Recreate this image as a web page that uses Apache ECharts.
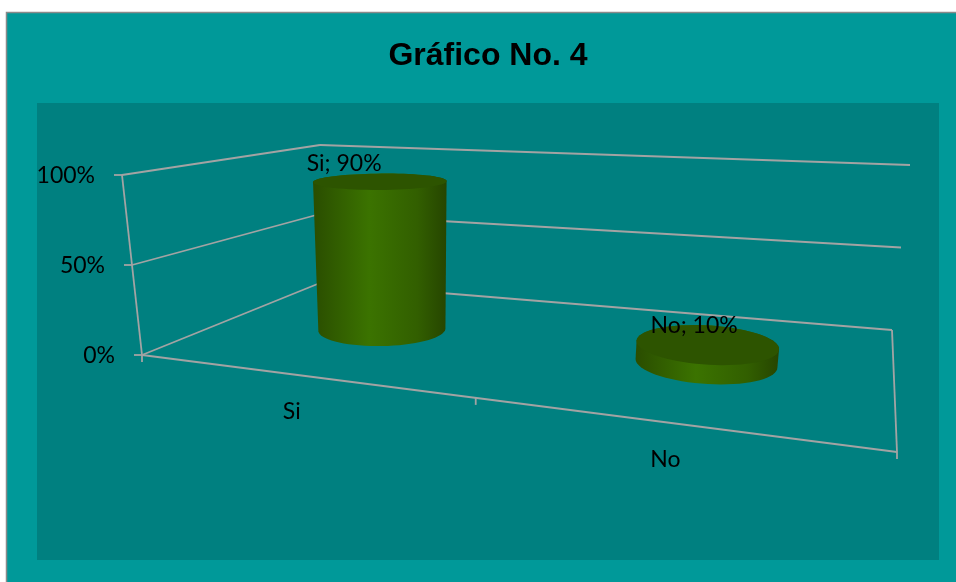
<!DOCTYPE html>
<html>
<head>
<meta charset="utf-8">
<title>Gráfico No. 4</title>
<script src="https://cdn.jsdelivr.net/npm/echarts@6/dist/echarts.min.js"></script>
<style>
  html, body { margin: 0; padding: 0; background: #ffffff; }
  #chart { width: 956px; height: 582px; }
</style>
</head>
<body>
<div id="chart"></div>
<script>
// Survey answers and their share of responses (%)
const categories = ['Si', 'No'];
const values = [90, 10];
// Value axis ticks (%)
const valueTicks = [0, 50, 100];
const chartTitle = 'Gráfico No. 4';

// Projected corners of the 3D plot box: u = category direction,
// h = height, z = depth (0 front, 1 back); w = perspective depth weight.
const BOX = [
  { u: 0, h: 0, z: 0, x: 142, y: 355, w: 0.77 },
  { u: 0, h: 1, z: 0, x: 122, y: 175, w: 0.77 },
  { u: 0, h: 0, z: 1, x: 320, y: 283, w: 1.00 },
  { u: 0, h: 1, z: 1, x: 320, y: 145, w: 1.00 },
  { u: 1, h: 0, z: 1, x: 892, y: 330, w: 0.84 },
  { u: 1, h: 1, z: 1, x: 910, y: 165, w: 0.84 },
  { u: 1, h: 0, z: 0, x: 897, y: 452, w: 0.61 },
  { u: 1, h: 1, z: 0, x: 925, y: 224, w: 0.61 }
];

const LINE = { stroke: '#a3a3a3', lineWidth: 1.8 };
const FONT = '23px Lato, "Open Sans", sans-serif';

// Perspective-correct blend of the box corners
function proj(u, h, z) {
  let sx = 0, sy = 0, sw = 0;
  for (const c of BOX) {
    const b = (c.u ? u : 1 - u) * (c.h ? h : 1 - h) * (c.z ? z : 1 - z) * c.w;
    sx += b * c.x; sy += b * c.y; sw += b;
  }
  return [sx / sw, sy / sw];
}

// Map a data point through the hidden cartesian scales to box fractions
function toBox(api, cs, cat, val) {
  const p = api.coord([cat, val]);
  return {
    u: (p[0] - cs.x) / cs.width,
    h: (cs.y + cs.height - p[1]) / cs.height
  };
}

function seg(a, b, style) {
  return { type: 'line', shape: { x1: a[0], y1: a[1], x2: b[0], y2: b[1] }, style: Object.assign({}, style || LINE) };
}

function hull(points) {
  const pts = points.slice().sort((a, b) => a[0] - b[0] || a[1] - b[1]);
  const cross = (o, a, b) => (a[0] - o[0]) * (b[1] - o[1]) - (a[1] - o[1]) * (b[0] - o[0]);
  const lower = [], upper = [];
  for (const p of pts) {
    while (lower.length >= 2 && cross(lower[lower.length - 2], lower[lower.length - 1], p) <= 0) lower.pop();
    lower.push(p);
  }
  for (let i = pts.length - 1; i >= 0; i--) {
    const p = pts[i];
    while (upper.length >= 2 && cross(upper[upper.length - 2], upper[upper.length - 1], p) <= 0) upper.pop();
    upper.push(p);
  }
  upper.pop(); lower.pop();
  return lower.concat(upper);
}

// Gridlines on the side and back walls, value ticks and labels
function renderGrid(params, api) {
  const cs = params.coordSys;
  const t = api.value(0);
  const h = toBox(api, cs, 0, t).h;
  const front = proj(0, h, 0), back = proj(0, h, 1), right = proj(1, h, 1);
  return {
    type: 'group',
    children: [
      seg(front, back),
      seg(back, right),
      seg([front[0] - 8, front[1]], front),
      {
        type: 'text',
        style: {
          text: t + '%', x: front[0] - 27, y: front[1] + 1,
          align: 'right', verticalAlign: 'middle', font: FONT, fill: '#000'
        }
      }
    ]
  };
}

// Floor edges, category ticks and category labels
function renderFloor(params, api) {
  const cs = params.coordSys;
  const children = [
    seg(proj(0, 0, 0), proj(0, 1, 0)),
    seg(proj(0, 0, 0), proj(1, 0, 0)),
    seg(proj(1, 0, 0), proj(1, 0, 1))
  ];
  const band = api.size([1, 0])[0] / cs.width;
  categories.forEach((name, i) => {
    const u = toBox(api, cs, i, 0).u;
    [u - band / 2, u + band / 2].forEach((ub, k) => {
      if (i > 0 && k === 0) return;
      const p = proj(ub, 0, 0);
      children.push(seg(p, [p[0], p[1] + 7]));
    });
    const f = proj(u, 0, 0);
    children.push({
      type: 'text',
      style: {
        text: name, x: f[0] - 8, y: f[1] + 36,
        align: 'center', verticalAlign: 'middle', font: FONT, fill: '#000'
      }
    });
  });
  return { type: 'group', children };
}

// One cylinder per answer, standing at mid depth
function renderCylinder(params, api) {
  const cs = params.coordSys;
  const cat = api.value(0), val = api.value(1);
  const top = toBox(api, cs, cat, val);
  const base = toBox(api, cs, cat, 0);
  const ru = 0.098, rz = 0.19, zc = 0.5, n = 72;
  const bottomPts = [], topPts = [];
  for (let k = 0; k < n; k++) {
    const a = (k / n) * Math.PI * 2;
    const u = top.u + ru * Math.cos(a);
    const z = zc + rz * Math.sin(a);
    bottomPts.push(proj(u, base.h, z));
    topPts.push(proj(u, top.h, z));
  }
  const side = hull(bottomPts.concat(topPts));
  const c = proj(top.u, top.h, zc);
  const anchor = proj(top.u, top.h, 0.28);
  return {
    type: 'group',
    children: [
      {
        type: 'polygon',
        shape: { points: side },
        style: {
          fill: new echarts.graphic.LinearGradient(0, 0, 1, 0, [
            { offset: 0, color: '#2a4d00' },
            { offset: 0.42, color: '#3b7300' },
            { offset: 0.78, color: '#325f00' },
            { offset: 1, color: '#264500' }
          ])
        }
      },
      { type: 'polygon', shape: { points: topPts }, style: { fill: '#2d5400' } },
      {
        type: 'text',
        style: {
          text: categories[cat] + '; ' + val + '%', x: anchor[0], y: c[1] - 18,
          align: 'center', verticalAlign: 'middle', font: FONT, fill: '#000'
        }
      }
    ]
  };
}

const chart = echarts.init(document.getElementById('chart'), null, { renderer: 'canvas' });
chart.setOption({
  backgroundColor: '#ffffff',
  animation: false,
  title: {
    text: chartTitle,
    left: 483,
    textAlign: 'center',
    top: 35,
    textStyle: { fontFamily: '"Liberation Sans", Arial, sans-serif', fontWeight: 'bold', fontSize: 32, color: '#000' }
  },
  graphic: [
    {
      type: 'rect', z: -10, silent: true,
      shape: { x: 6.5, y: 12.5, width: 960, height: 580 },
      style: { fill: '#009999', stroke: '#8a8a8a', lineWidth: 1.5 }
    }
  ],
  grid: {
    show: true, left: 37, top: 103, width: 902, height: 457,
    backgroundColor: '#008080', borderWidth: 0
  },
  xAxis: { type: 'category', data: categories, show: false },
  yAxis: { type: 'value', min: 0, max: 100, interval: 50, show: false },
  series: [
    {
      type: 'custom', name: 'grid', clip: false, silent: true,
      data: valueTicks.map(t => [t]),
      encode: { y: 0 },
      renderItem: renderGrid
    },
    {
      type: 'custom', name: 'floor', clip: false, silent: true,
      data: [[0]],
      encode: { x: 0 },
      renderItem: renderFloor
    },
    {
      type: 'custom', name: 'Respuestas', clip: false,
      data: values.map((v, i) => [i, v]),
      encode: { x: 0, y: 1 },
      renderItem: renderCylinder
    }
  ]
});
</script>
</body>
</html>
